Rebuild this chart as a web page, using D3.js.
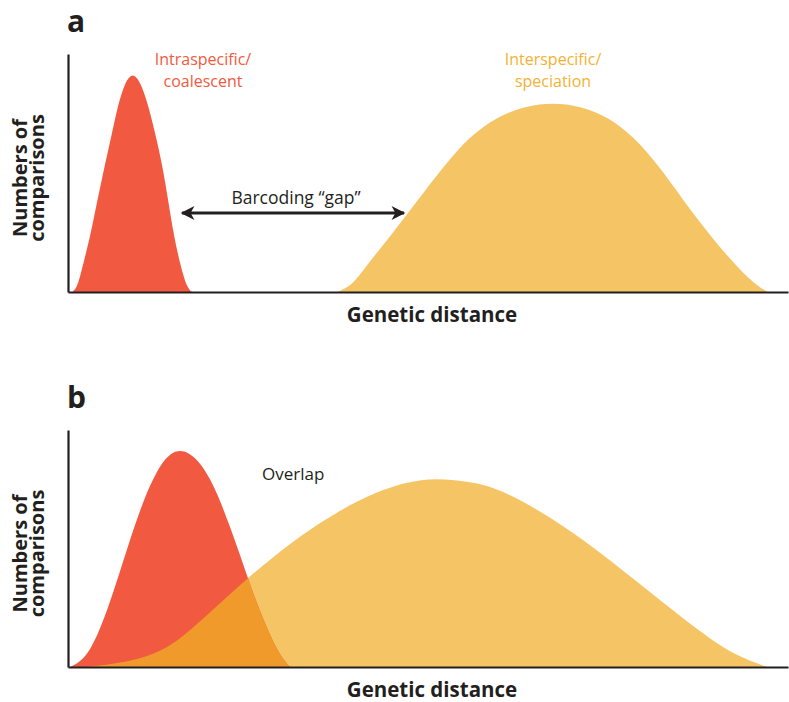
<!DOCTYPE html>
<html lang="en">
<head>
  <meta charset="utf-8">
  <script src="https://d3js.org/d3.v7.min.js"></script>
  <style>
    body { margin: 0; background: #fff; }
    text { font-family: "Open Sans", "Noto Sans", sans-serif; }
  </style>
</head>
<body>
<script>
  // genetic distance (0-100) vs relative number of comparisons (0-100)
  // panel a
  const redA_x = [0.6, 1.3, 1.9, 3.1, 4.0, 5.0, 6.1, 6.9, 7.9, 9.0, 10.1, 11.1, 12.1, 13.1, 13.9, 14.7, 15.7, 16.5, 17.2];
  const redA_y = [0, 2.1, 9.2, 23.5, 37.4, 51.7, 66.4, 78.2, 88.0, 92.4, 88.0, 79.0, 66.8, 53.4, 38.7, 23.5, 10.1, 2.1, 0];
  const yelA_x = [37.4, 39.4, 41.3, 45.1, 48.6, 52.1, 55.8, 59.6, 63.5, 67.4, 71.1, 75.0, 78.5, 82.2, 85.4, 88.9, 92.9, 95.7, 97.2];
  const yelA_y = [0, 2.5, 10.5, 24.8, 38.7, 52.5, 65.5, 73.6, 78.2, 79.6, 78.2, 73.6, 65.5, 52.5, 38.7, 24.8, 10.5, 2.5, 0];
  // panel b
  const redB_x = [0.3, 1.7, 3.1, 4.4, 5.8, 7.2, 8.6, 10.0, 11.4, 12.8, 14.2, 15.6, 16.9, 18.3, 19.7, 21.1, 22.5, 23.9, 25.3, 26.7, 28.1, 29.4, 30.8];
  const redB_y = [0, 2.1, 7.2, 15.6, 27.0, 40.1, 53.6, 66.2, 76.8, 85.2, 90.2, 91.6, 90.2, 86.4, 79.7, 70.5, 59.1, 47.3, 34.6, 23.2, 13.1, 5.1, 0];
  const yelB_x = [2.4, 5.8, 10.4, 13.8, 16.5, 19.7, 22.9, 25.0, 28.5, 32.2, 37.8, 42.4, 47.1, 51.0, 56.3, 60.0, 66.9, 73.9, 80.8, 87.8, 92.4, 97.1];
  const yelB_y = [0, 1.0, 3.6, 8.0, 14.2, 23.0, 31.8, 37.6, 46.4, 55.2, 66.2, 73.4, 78.1, 79.8, 78.1, 75.1, 63.7, 48.5, 31.6, 14.8, 5.1, 0];
  // barcoding gap arrow (genetic distance from / to, height)
  const gap = [15.7, 46.8, 33.2];

  const W = 789, H = 702;
  const RED = "#f15a40", YEL = "#f5c465", OVER = "#ef9a2b", INK = "#231f20";

  const svg = d3.select("body").append("svg")
    .attr("width", W).attr("height", H);

  const defs = svg.append("defs");
  defs.append("marker")
    .attr("id", "head")
    .attr("viewBox", "0 0 10 10")
    .attr("refX", 9).attr("refY", 5)
    .attr("markerWidth", 5.2).attr("markerHeight", 4.6)
    .attr("markerUnits", "strokeWidth")
    .attr("orient", "auto-start-reverse")
    .append("path")
    .attr("d", "M0,0 L10,5 L0,10 L2.8,5 Z")
    .attr("fill", INK);

  const x = d3.scaleLinear().domain([0, 100]).range([68, 788]);

  function zip(xs, ys) { return xs.map((v, i) => ({ x: v, y: ys[i] })); }

  function panel(id, top, bottom, red, yel, overlap) {
    const y = d3.scaleLinear().domain([0, 100]).range([bottom, top]);
    const g = svg.append("g");
    const area = d3.area()
      .x(d => x(d.x)).y0(y(0)).y1(d => Math.min(y(0), y(d.y)))
      .curve(d3.curveBasis);

    g.append("path").datum(yel).attr("d", area).attr("fill", YEL);
    g.append("path").datum(red).attr("d", area).attr("fill", RED);

    if (overlap) {
      defs.append("clipPath").attr("id", "clip" + id)
        .append("path").datum(red).attr("d", area);
      g.append("path").datum(yel).attr("d", area)
        .attr("fill", OVER).attr("clip-path", "url(#clip" + id + ")");
    }

    const ax = g.append("g").attr("transform", "translate(" + x(0) + ",0)")
      .call(d3.axisLeft(y).tickValues([]).tickSizeOuter(0));
    const bx = g.append("g").attr("transform", "translate(0," + y(0) + ")")
      .call(d3.axisBottom(x).tickValues([]).tickSizeOuter(0));
    [ax, bx].forEach(a => a.select(".domain").attr("stroke", INK).attr("stroke-width", 2.2));

    // panel letter
    g.append("text").attr("x", 67).attr("y", top - 22)
      .attr("font-size", 30).attr("font-weight", 700).attr("fill", INK)
      .text(id);

    // axis titles
    g.append("text").attr("x", (x(0) + x(100)) / 2 + 4).attr("y", bottom + 30)
      .attr("text-anchor", "middle").attr("font-size", 20.5).attr("font-weight", 700)
      .attr("fill", INK).text("Genetic distance");

    const yl = g.append("text")
      .attr("transform", "translate(27," + ((top + bottom) / 2 + 5) + ") rotate(-90)")
      .attr("text-anchor", "middle").attr("font-size", 20).attr("font-weight", 700)
      .attr("fill", INK);
    yl.append("tspan").attr("x", 0).attr("dy", 0).text("Numbers of");
    yl.append("tspan").attr("x", 0).attr("dy", 17).text("comparisons");

    return y;
  }

  const yA = panel("a", 54, 292, zip(redA_x, redA_y), zip(yelA_x, yelA_y), false);
  const yB = panel("b", 430, 667, zip(redB_x, redB_y), zip(yelB_x, yelB_y), true);

  // panel a annotations, two lines each
  function label(lines, cx, yTop, color) {
    lines.forEach((s, i) => {
      svg.append("text").attr("x", cx).attr("y", yTop + i * 22)
        .attr("text-anchor", "middle").attr("font-size", 16)
        .attr("fill", color).text(s);
    });
  }
  label(["Intraspecific/", "coalescent"], 203, 65, RED);
  label(["Interspecific/", "speciation"], 553, 65, "#f3b232");

  svg.append("line")
    .attr("x1", x(gap[0]) + 1).attr("x2", x(gap[1]) - 1)
    .attr("y1", yA(gap[2])).attr("y2", yA(gap[2]))
    .attr("stroke", INK).attr("stroke-width", 3)
    .attr("marker-start", "url(#head)").attr("marker-end", "url(#head)");
  svg.append("text").attr("x", (x(gap[0]) + x(gap[1])) / 2 + 3).attr("y", yA(gap[2]) - 9)
    .attr("text-anchor", "middle").attr("font-size", 17.5).attr("fill", INK)
    .text("Barcoding \u201cgap\u201d");

  // panel b annotation
  svg.append("text").attr("x", 262).attr("y", 480)
    .attr("font-size", 17).attr("fill", INK).text("Overlap");
</script>
</body>
</html>
